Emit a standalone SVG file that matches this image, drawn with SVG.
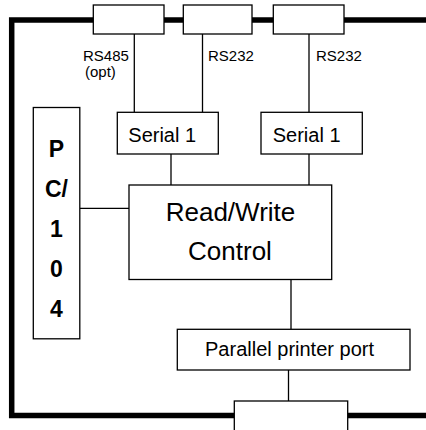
<svg xmlns="http://www.w3.org/2000/svg" width="426" height="430" viewBox="0 0 426 430">
<style>
.box{fill:#fff;stroke:#000;stroke-width:1.3}
.ln{stroke:#000;stroke-width:1.3;fill:none}
.bus{stroke:#000;stroke-width:5.5;fill:none;stroke-linejoin:miter}
text{font-family:"Liberation Sans",Arial,sans-serif;fill:#000}
.lbl{font-size:15px}
.t20{font-size:20px}
.t26{font-size:26px}
.pc{font-size:23px;font-weight:bold;text-anchor:middle}
</style>
<rect width="426" height="430" fill="#fff"/>
<g id="bus">
<path class="bus" d="M426 20 H11.7 V415.5 H426"/>
</g>
<g id="connectors">
<line class="ln" x1="134.3" y1="34" x2="134.3" y2="112"/>
<line class="ln" x1="202.5" y1="34" x2="202.5" y2="112"/>
<line class="ln" x1="309" y1="34" x2="309" y2="112"/>
<line class="ln" x1="171" y1="154" x2="171" y2="185"/>
<line class="ln" x1="309" y1="154" x2="309" y2="185"/>
<line class="ln" x1="80" y1="208.3" x2="129" y2="208.3"/>
<line class="ln" x1="291" y1="279.5" x2="291" y2="329.3"/>
<line class="ln" x1="288.5" y1="370" x2="288.5" y2="401"/>
<text class="lbl" x="83" y="60.5">RS485</text>
<text class="lbl" x="85" y="77">(opt)</text>
<text class="lbl" x="208" y="60.5">RS232</text>
<text class="lbl" x="316" y="60.5">RS232</text>
</g>
<g id="conn1"><rect class="box" x="93.3" y="5" width="70.7" height="29"/></g>
<g id="conn2"><rect class="box" x="183.3" y="5" width="68.7" height="29"/></g>
<g id="conn3"><rect class="box" x="273.3" y="5" width="70.7" height="29"/></g>
<g id="serial1"><rect class="box" x="117.3" y="112.3" width="101" height="41.7"/><text class="t20" x="128.3" y="142.3">Serial 1</text></g>
<g id="serial2"><rect class="box" x="261" y="112.3" width="101.3" height="41.7"/><text class="t20" x="272.7" y="142.3">Serial 1</text></g>
<g id="rw"><rect class="box" x="129" y="185" width="202.7" height="94.5"/><text class="t26" x="230.5" y="220.7" text-anchor="middle">Read/Write</text><text class="t26" x="230" y="260" text-anchor="middle">Control</text></g>
<g id="pc104"><rect class="box" x="33.3" y="107.5" width="46.5" height="231.3"/>
<text class="pc" x="56.5" y="157.3">P</text>
<text class="pc" x="56.5" y="197.3">C/</text>
<text class="pc" x="56.5" y="237">1</text>
<text class="pc" x="56.5" y="277">0</text>
<text class="pc" x="56.5" y="316.7">4</text></g>
<g id="parallel"><rect class="box" x="177.3" y="329.3" width="232.7" height="40.7"/><text class="t20" x="289.5" y="356" text-anchor="middle">Parallel printer port</text></g>
<g id="conn4"><rect class="box" x="234.3" y="401" width="113.4" height="40"/></g>
</svg>
